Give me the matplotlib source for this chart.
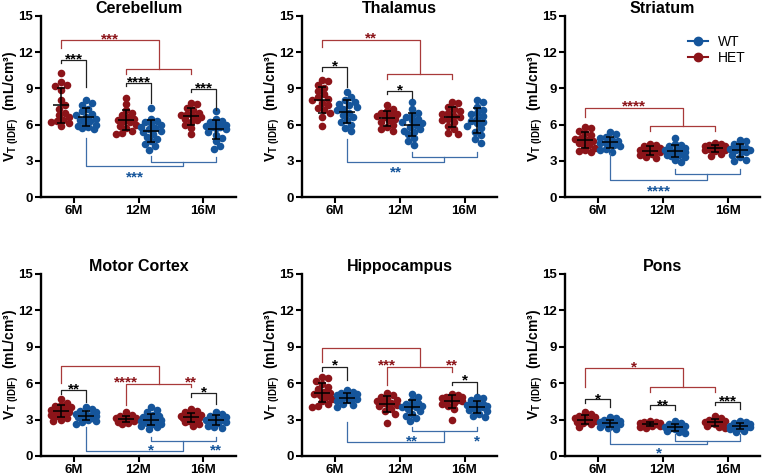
import numpy as np
import matplotlib
matplotlib.use("Agg")
import matplotlib.pyplot as plt
from matplotlib.lines import Line2D

plt.rcParams['font.family'] = ['Liberation Sans', 'DejaVu Sans']
plt.rcParams['font.weight'] = 'bold'
plt.rcParams['mathtext.fontset'] = 'custom'
plt.rcParams['mathtext.rm'] = 'Liberation Sans:bold'
plt.rcParams['mathtext.bf'] = 'Liberation Sans:bold'
plt.rcParams['mathtext.it'] = 'Liberation Sans:bold'

timepoints = ["6M", "12M", "16M"]
regions = ["Cerebellum", "Thalamus", "Striatum", "Motor Cortex", "Hippocampus", "Pons"]

# V_T values per animal, [6M, 12M, 16M]
cerebellum_het = [[10.3, 9.5, 9.3, 9.2, 8.9, 8.0, 7.6, 7.3, 7.0, 6.8, 6.6, 6.4, 6.3, 6.1, 5.9, 6.2],
                  [8.2, 7.7, 7.2, 7.0, 6.8, 6.6, 6.5, 6.3, 6.2, 6.0, 5.9, 5.7, 5.5, 5.3, 5.2, 6.4],
                  [7.8, 7.7, 7.4, 7.2, 7.0, 6.9, 6.8, 6.7, 6.6, 6.4, 6.2, 6.0, 5.7, 5.2, 6.5]]
cerebellum_wt = [[8.0, 7.8, 7.6, 7.3, 7.1, 6.9, 6.8, 6.6, 6.5, 6.4, 6.2, 6.0, 5.9, 5.8, 5.7, 5.6, 6.3],
                 [7.4, 6.5, 6.3, 6.2, 6.0, 5.8, 5.6, 5.5, 5.4, 5.2, 5.0, 4.8, 4.6, 4.4, 4.2, 3.9, 5.7, 6.1],
                 [7.1, 6.5, 6.3, 6.1, 6.0, 5.9, 5.8, 5.7, 5.6, 5.4, 5.1, 4.9, 4.6, 4.2, 4.0, 5.8, 6.2]]
thalamus_het = [[9.7, 9.6, 9.3, 9.0, 8.8, 8.5, 8.3, 8.1, 8.0, 7.8, 7.6, 7.4, 7.2, 7.0, 6.6, 5.9],
                [7.6, 7.3, 7.1, 7.0, 6.8, 6.7, 6.6, 6.5, 6.4, 6.2, 6.0, 5.8, 5.6, 5.5, 6.9],
                [7.9, 7.8, 7.5, 7.3, 7.1, 6.9, 6.7, 6.6, 6.4, 6.2, 5.9, 5.6, 5.3, 5.2, 7.0, 6.5]]
thalamus_wt = [[8.7, 8.3, 8.0, 7.9, 7.7, 7.5, 7.3, 7.2, 7.0, 6.8, 6.6, 6.4, 6.2, 6.0, 5.7, 5.5, 7.6],
               [7.9, 7.3, 7.0, 6.8, 6.6, 6.4, 6.2, 6.1, 6.0, 5.8, 5.6, 5.4, 5.2, 4.9, 4.6, 4.3, 6.5, 5.5],
               [8.0, 7.9, 7.5, 7.2, 7.0, 6.7, 6.5, 6.3, 6.1, 5.9, 5.7, 5.4, 5.1, 4.8, 4.5, 6.9, 6.2]]
striatum_het = [[5.8, 5.7, 5.5, 5.3, 5.1, 4.9, 4.8, 4.7, 4.6, 4.5, 4.3, 4.1, 3.9, 3.8, 3.7, 4.4],
                [4.4, 4.3, 4.2, 4.0, 3.9, 3.8, 3.8, 3.7, 3.6, 3.5, 3.3, 3.2, 4.1, 3.9],
                [4.5, 4.4, 4.3, 4.2, 4.1, 4.1, 4.0, 3.9, 3.9, 3.8, 3.6, 3.4, 4.2, 4.0]]
striatum_wt = [[5.4, 5.2, 5.0, 4.9, 4.7, 4.6, 4.5, 4.4, 4.3, 4.2, 4.0, 3.9, 3.7, 4.5],
               [4.9, 4.4, 4.3, 4.1, 4.0, 3.9, 3.8, 3.7, 3.6, 3.5, 3.4, 3.3, 3.1, 2.9, 3.8, 4.2, 3.5],
               [4.7, 4.6, 4.4, 4.2, 4.0, 3.9, 3.8, 3.7, 3.5, 3.3, 3.1, 3.0, 4.1, 3.9]]
motor_het = [[4.7, 4.4, 4.2, 4.1, 3.9, 3.8, 3.7, 3.6, 3.5, 3.4, 3.3, 3.1, 3.0, 2.9, 3.8, 4.0],
             [3.6, 3.4, 3.3, 3.2, 3.1, 3.0, 3.0, 2.9, 2.8, 2.7, 2.6, 3.1, 3.0],
             [3.9, 3.7, 3.6, 3.5, 3.4, 3.3, 3.2, 3.2, 3.1, 3.0, 2.9, 2.8, 2.6, 2.5, 3.3, 3.1]]
motor_wt = [[4.0, 3.9, 3.7, 3.6, 3.5, 3.4, 3.3, 3.3, 3.2, 3.1, 3.0, 2.9, 2.8, 2.6, 3.4, 3.5, 3.2],
            [4.0, 3.8, 3.6, 3.4, 3.3, 3.2, 3.1, 3.0, 2.9, 2.8, 2.7, 2.6, 2.5, 2.4, 2.2, 3.0, 2.9, 3.1, 2.6],
            [3.6, 3.5, 3.3, 3.2, 3.1, 3.0, 2.9, 2.8, 2.7, 2.5, 2.4, 2.3, 3.0]]
hippo_het = [[6.5, 6.4, 6.2, 5.9, 5.7, 5.5, 5.3, 5.2, 5.1, 4.9, 4.7, 4.5, 4.3, 4.1, 4.0, 5.0],
             [5.2, 5.0, 4.9, 4.7, 4.5, 4.4, 4.3, 4.2, 4.1, 3.9, 3.7, 3.5, 2.7, 4.6, 4.4],
             [5.1, 5.0, 4.9, 4.8, 4.7, 4.6, 4.6, 4.5, 4.4, 4.3, 4.1, 3.9, 3.0, 4.8, 4.9]]
hippo_wt = [[5.4, 5.3, 5.2, 5.1, 5.0, 4.9, 4.8, 4.7, 4.6, 4.5, 4.3, 4.2, 4.0, 4.8, 5.0],
            [5.1, 4.9, 4.6, 4.4, 4.2, 4.1, 4.0, 3.9, 3.7, 3.5, 3.3, 3.1, 2.9, 4.0, 4.3],
            [4.9, 4.8, 4.6, 4.4, 4.3, 4.2, 4.1, 4.0, 3.9, 3.7, 3.5, 3.3, 3.2, 4.2, 4.0, 3.8]]
pons_het = [[3.6, 3.5, 3.3, 3.2, 3.1, 3.0, 3.0, 2.9, 2.8, 2.7, 2.6, 2.4, 3.1, 2.9],
            [2.9, 2.8, 2.8, 2.7, 2.7, 2.6, 2.6, 2.5, 2.5, 2.4, 2.3, 2.6, 2.7],
            [3.3, 3.1, 3.0, 2.9, 2.8, 2.8, 2.7, 2.6, 2.5, 2.4, 2.3, 2.7, 2.9]]
pons_wt = [[3.2, 3.1, 3.0, 2.9, 2.8, 2.7, 2.7, 2.6, 2.5, 2.4, 2.3, 2.2, 2.8, 2.6],
           [2.9, 2.7, 2.6, 2.5, 2.4, 2.4, 2.3, 2.2, 2.1, 2.0, 1.9, 2.3, 2.5],
           [2.9, 2.8, 2.7, 2.6, 2.5, 2.5, 2.4, 2.4, 2.3, 2.2, 2.1, 2.0, 2.5, 2.4]]

HET_C = "#8C1419"
WT_C = "#15559B"
RED_LINE = "#A83A3A"
BLUE_LINE = "#3D6DA8"
OFF = 0.19
STAR_FS = 11


def swarm(values, center, xpx=65.0, ypx=12.1, mind=6.0, step=2.0, cap=10.0):
    # spread points sideways inside +-cap pixels, least crowded slot wins
    order = np.argsort(values)[::-1]
    cands = [0.0]
    k = 1
    while k * step <= cap:
        cands += [k * step, -k * step]
        k += 1
    placed = []
    xs = np.zeros(len(values))
    for i in order:
        y = values[i] * ypx
        best, best_d = 0.0, -1.0
        for off in cands:
            d = min([np.hypot(off - px, y - py) for px, py in placed] or [99.0])
            if d >= mind:
                best = off
                break
            if d > best_d:
                best, best_d = off, d
        placed.append((best, y))
        xs[i] = center + best / xpx
    return xs


def stars(ax, x, yc, text, color):
    ax.annotate(text, (x, yc), xytext=(0, -0.58 * STAR_FS), textcoords='offset points',
                ha='center', va='baseline', color=color, fontsize=STAR_FS,
                fontweight='bold', annotation_clip=False)


def pair(ax, t, y, yl, yr, text, yc):
    ax.plot([t - OFF, t - OFF, t + OFF, t + OFF], [yl, y, y, yr], color='#222222', lw=0.9)
    stars(ax, t, yc, text, 'black')


def nested(ax, xa, xb, xc, y_out, y_out_end, y_in, y_in_b, y_in_c, color):
    xm = (xb + xc) / 2
    ax.plot([xa, xa, xm, xm], [y_out_end, y_out, y_out, y_in], color=color, lw=0.9)
    ax.plot([xb, xb, xc, xc], [y_in_b, y_in, y_in, y_in_c], color=color, lw=0.9)


def red_nested(ax, *args):
    nested(ax, -OFF, 1 - OFF, 2 - OFF, *args, RED_LINE)


def blue_nested(ax, *args):
    nested(ax, OFF, 1 + OFF, 2 + OFF, *args, BLUE_LINE)


def draw_panel(ax, title, het, wt):
    for t in range(3):
        for vals, off, col in ((het[t], -OFF, HET_C), (wt[t], OFF, WT_C)):
            v = np.array(vals)
            xs = swarm(v, t + off)
            ax.scatter(xs, v, s=30, color=col, lw=0, zorder=2, clip_on=False)
            m, sd = v.mean(), v.std(ddof=1)
            ax.hlines(m, t + off - 0.12, t + off + 0.12, color='black', lw=1.1, zorder=3)
            ax.errorbar(t + off, m, yerr=sd, fmt='none', ecolor='black', elinewidth=1.1,
                        capsize=3, capthick=1.1, zorder=3)
    ax.set_xlim(-0.5, 2.5)
    ax.set_ylim(0, 15)
    ax.set_yticks([0, 3, 6, 9, 12, 15])
    ax.set_xticks([0, 1, 2])
    ax.set_xticklabels(timepoints)
    for s in ['top', 'right']:
        ax.spines[s].set_visible(False)
    for s in ['left', 'bottom']:
        ax.spines[s].set_linewidth(1.7)
    ax.tick_params(length=4, width=1.5, labelsize=9.5, pad=1.5)
    ax.set_title(title, fontsize=11.5, fontweight='bold', pad=1)
    ax.set_ylabel(r'$\mathrm{V}_{\mathrm{T\ (IDIF)}}$  (mL/cm³)', fontsize=10,
                  fontweight='bold')
    ax.yaxis.set_label_coords(-0.105, 0.5)


fig = plt.figure(figsize=(7.62, 4.76), dpi=100)
axes = []
for top, h in ((16, 181), (274, 182)):
    for left in (41, 302, 565):
        axes.append(fig.add_axes([left / 762, 1 - (top + h) / 476, 195 / 762, h / 476]))

het_all = [cerebellum_het, thalamus_het, striatum_het, motor_het, hippo_het, pons_het]
wt_all = [cerebellum_wt, thalamus_wt, striatum_wt, motor_wt, hippo_wt, pons_wt]
for ax, name, het, wt in zip(axes, regions, het_all, wt_all):
    draw_panel(ax, name, het, wt)

# Cerebellum
ax = axes[0]
red_nested(ax, 13.0, 12.35, 10.63, 10.2, 10.2)
stars(ax, 0.56, 13.45, "***", HET_C)
pair(ax, 0, 11.38, 11.1, 9.1, "***", 11.8)
pair(ax, 1, 9.45, 9.2, 7.8, "****", 9.9)
pair(ax, 2, 8.95, 8.7, 7.25, "***", 9.4)
blue_nested(ax, 2.54, 4.9, 2.9, 3.4, 3.3)
stars(ax, 0.94, 2.0, "***", WT_C)

# Thalamus
ax = axes[1]
red_nested(ax, 13.0, 12.46, 10.2, 9.79, 9.79)
stars(ax, 0.56, 13.5, "**", HET_C)
pair(ax, 0, 10.8, 10.45, 9.1, "*", 11.2)
pair(ax, 1, 8.82, 8.55, 8.2, "*", 9.25)
blue_nested(ax, 2.9, 4.8, 3.3, 3.7, 3.7)
stars(ax, 0.94, 2.4, "**", WT_C)

# Striatum
ax = axes[2]
red_nested(ax, 7.36, 6.67, 5.85, 5.43, 5.43)
stars(ax, 0.56, 7.9, "****", HET_C)
blue_nested(ax, 1.43, 3.64, 1.93, 2.3, 2.3)
stars(ax, 0.94, 0.88, "****", WT_C)
ax.legend(handles=[Line2D([0], [0], color=WT_C, marker='o', ms=6, lw=1.5, label='WT'),
                   Line2D([0], [0], color=HET_C, marker='o', ms=6, lw=1.5, label='HET')],
          loc='upper left', bbox_to_anchor=(0.631, 0.895), frameon=False,
          prop={'size': 10, 'weight': 'normal'}, handlelength=1.45, handletextpad=0.7,
          labelspacing=0.15, borderpad=0, borderaxespad=0)

# Motor Cortex
ax = axes[3]
red_nested(ax, 7.44, 5.98, 5.93, 4.2, 5.7)
stars(ax, 1 - OFF, 6.5, "****", HET_C)
stars(ax, 2 - OFF, 6.5, "**", HET_C)
pair(ax, 0, 5.43, 5.1, 4.47, "**", 5.85)
pair(ax, 2, 5.16, 4.88, 4.27, "*", 5.6)
blue_nested(ax, 0.41, 2.4, 1.27, 1.57, 1.57)
stars(ax, 1 + OFF, 0.88, "*", WT_C)
stars(ax, 2 + OFF, 0.88, "**", WT_C)

# Hippocampus
ax = axes[4]
red_nested(ax, 8.88, 7.78, 7.36, 5.85, 6.95)
stars(ax, 1 - OFF, 7.9, "***", HET_C)
stars(ax, 2 - OFF, 7.9, "**", HET_C)
pair(ax, 0, 7.36, 7.0, 6.26, "*", 7.85)
pair(ax, 2, 6.12, 5.85, 5.16, "*", 6.6)
blue_nested(ax, 1.16, 2.8, 2.04, 2.4, 2.4)
stars(ax, 1 + OFF, 1.57, "**", WT_C)
stars(ax, 2 + OFF, 1.57, "*", WT_C)

# Pons
ax = axes[5]
red_nested(ax, 7.22, 5.7, 5.7, 5.3, 5.3)
stars(ax, 0.56, 7.7, "*", HET_C)
pair(ax, 0, 4.66, 4.38, 4.05, "*", 5.1)
pair(ax, 1, 4.19, 3.9, 3.78, "**", 4.6)
pair(ax, 2, 4.47, 4.19, 3.9, "***", 4.9)
blue_nested(ax, 1.02, 2.4, 1.21, 1.85, 1.85)
stars(ax, 0.94, 0.6, "*", WT_C)

fig.savefig("out.png", dpi=100)
